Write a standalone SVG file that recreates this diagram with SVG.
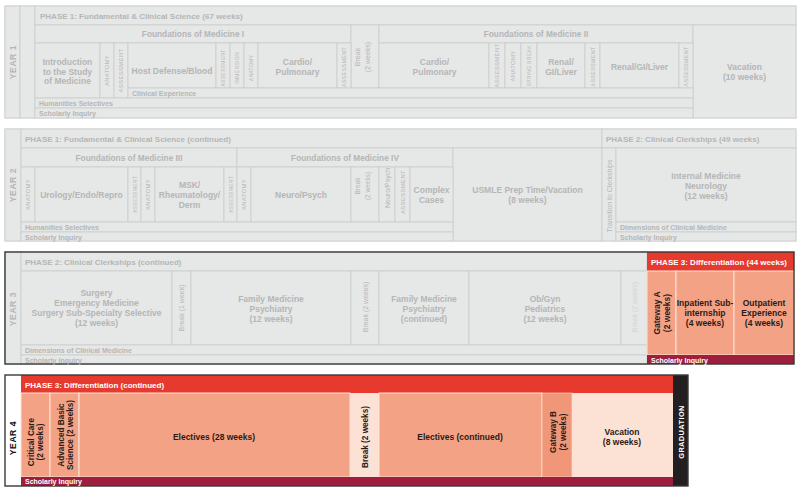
<svg xmlns="http://www.w3.org/2000/svg" width="800" height="490" viewBox="0 0 800 490">
<style>
.bg{fill:#fff}
.g{fill:#E6E7E7;stroke:#CBCCCC;stroke-width:0.8}
.dk{fill:none;stroke:#3A3A3A;stroke-width:1.4}
.red{fill:#E63A2F}
.sal{fill:#F4A286;stroke:#FBE3D8;stroke-width:1}
.salB{fill:#F0977A;stroke:#FBE3D8;stroke-width:0.6}
.lt{fill:#FCE2D5}
.mar{fill:#9E1E3E}
.grad{fill:#231F20}
text{font-family:"Liberation Sans",Arial,sans-serif}
.tg{fill:#B5B6B6;font-weight:bold;font-size:8.5px;text-anchor:middle}
.th{fill:#B5B6B6;font-weight:bold;font-size:8px}
.tf{fill:#B5B6B6;font-weight:bold;font-size:8.3px;text-anchor:middle}
.ty{fill:#B5B6B6;font-weight:bold;font-size:8.5px;text-anchor:middle;letter-spacing:0.6px}
.ts{fill:#B5B6B6;font-size:6px;text-anchor:middle;letter-spacing:0.3px}
.ts5{font-size:5px}
.tr{fill:#B5B6B6;font-weight:bold;font-size:7px}
.tb{fill:#B5B6B6;font-size:7px;text-anchor:middle}
.tbf{fill:#D2D3D3;font-size:7px;text-anchor:middle}
.tw{fill:#fff;font-weight:bold;font-size:8px}
.twr{fill:#fff;font-weight:bold;font-size:7px}
.td{fill:#2B1B17;font-weight:bold;font-size:8.5px;text-anchor:middle}
.tdv{fill:#2B1B17;font-weight:bold;font-size:8.2px;text-anchor:middle}
.ty4{fill:#111;font-weight:bold;font-size:8.5px;text-anchor:middle;letter-spacing:0.6px}
.tgr{fill:#fff;font-weight:bold;font-size:7.4px;text-anchor:middle;letter-spacing:0.4px}
</style>
<rect class="bg" x="0" y="0" width="800" height="490"/>

<!-- YEAR 1 -->
<g id="year1">
  <rect class="g" x="5" y="6" width="791" height="112"/>
  <rect class="g" x="5" y="6" width="15" height="112"/>
  <rect class="g" x="20" y="6" width="15" height="112"/>
  <rect class="g" x="35" y="6" width="761" height="19"/>
  <rect class="g" x="35" y="25" width="316" height="18"/>
  <rect class="g" x="351" y="25" width="28" height="63"/>
  <rect class="g" x="379" y="25" width="314" height="18"/>
  <rect class="g" x="693" y="25" width="103" height="93"/>
  <rect class="g" x="35" y="43" width="65" height="55"/>
  <rect class="g" x="100" y="43" width="14" height="55"/>
  <rect class="g" x="114" y="43" width="14" height="55"/>
  <rect class="g" x="128" y="43" width="88" height="45"/>
  <rect class="g" x="216" y="43" width="14" height="45"/>
  <rect class="g" x="230" y="43" width="14" height="45"/>
  <rect class="g" x="244" y="43" width="14" height="45"/>
  <rect class="g" x="258" y="43" width="79" height="45"/>
  <rect class="g" x="337" y="43" width="14" height="45"/>
  <rect class="g" x="379" y="43" width="110" height="45"/>
  <rect class="g" x="489" y="43" width="16" height="45"/>
  <rect class="g" x="505" y="43" width="16" height="45"/>
  <rect class="g" x="521" y="43" width="16" height="45"/>
  <rect class="g" x="537" y="43" width="48" height="45"/>
  <rect class="g" x="585" y="43" width="15" height="45"/>
  <rect class="g" x="600" y="43" width="79" height="45"/>
  <rect class="g" x="679" y="43" width="14" height="45"/>
  <rect class="g" x="128" y="88" width="565" height="10"/>
  <rect class="g" x="35" y="98" width="658" height="10"/>
  <rect class="g" x="35" y="108" width="658" height="10"/>

  <text class="ty" transform="translate(13,62) rotate(-90)" y="3">YEAR 1</text>
  <text class="th" x="40" y="18.5">PHASE 1: Fundamental &amp; Clinical Science (67 weeks)</text>
  <text class="tf" x="193" y="37">Foundations of Medicine I</text>
  <text class="tf" x="536" y="37">Foundations of Medicine II</text>
  <text class="tb" transform="translate(365,57) rotate(-90)"><tspan x="0" y="-5.5">Break</tspan><tspan x="0" y="5">(2 weeks)</tspan></text>
  <text class="tg"><tspan x="744.5" y="70">Vacation</tspan><tspan x="744.5" y="80">(10 weeks)</tspan></text>
  <text class="tg"><tspan x="67.5" y="65">Introduction</tspan><tspan x="67.5" y="74.5">to the Study</tspan><tspan x="67.5" y="84">of Medicine</tspan></text>
  <text class="ts" transform="translate(107,70.5) rotate(-90)" y="2">ANATOMY</text>
  <text class="ts" transform="translate(121,70.5) rotate(-90)" y="2">ASSESSMENT</text>
  <text class="tg" x="172" y="74">Host Defense/Blood</text>
  <text class="ts ts5" transform="translate(223,68) rotate(-90)" y="2">ASSESSMENT</text>
  <text class="ts ts5" transform="translate(237,68) rotate(-90)" y="2">IMMERSION</text>
  <text class="ts ts5" transform="translate(251,68) rotate(-90)" y="2">ANATOMY</text>
  <text class="tg"><tspan x="297.5" y="65">Cardio/</tspan><tspan x="297.5" y="74.5">Pulmonary</tspan></text>
  <text class="ts" transform="translate(344,67) rotate(-90)" y="2" style="font-size:5.4px">ASSESSMENT</text>
  <text class="tg"><tspan x="434.5" y="65">Cardio/</tspan><tspan x="434.5" y="74.5">Pulmonary</tspan></text>
  <text class="ts" transform="translate(497,65.5) rotate(-90)" y="2">ASSESSMENT</text>
  <text class="ts" transform="translate(513,66) rotate(-90)" y="2">ANATOMY</text>
  <text class="ts ts5" transform="translate(529,66) rotate(-90)" y="2">SPRING BREAK</text>
  <text class="tg"><tspan x="561" y="65">Renal/</tspan><tspan x="561" y="74.5">GI/Liver</tspan></text>
  <text class="ts" transform="translate(592.5,66.5) rotate(-90)" y="2" style="font-size:5.4px">ASSESSMENT</text>
  <text class="tg" x="639.5" y="69.5">Renal/GI/Liver</text>
  <text class="ts" transform="translate(686,66.5) rotate(-90)" y="2" style="font-size:5.4px">ASSESSMENT</text>
  <text class="tr" x="132" y="95.5">Clinical Experience</text>
  <text class="tr" x="39" y="105.5">Humanities Selectives</text>
  <text class="tr" x="39" y="115.5">Scholarly Inquiry</text>
</g>

<!-- YEAR 2 -->
<g id="year2">
  <rect class="g" x="5" y="129" width="791" height="112"/>
  <rect class="g" x="5" y="129" width="16" height="112"/>
  <rect class="g" x="21" y="129" width="581" height="19"/>
  <rect class="g" x="602" y="129" width="194" height="19"/>
  <rect class="g" x="21" y="148" width="216" height="19"/>
  <rect class="g" x="237" y="148" width="216" height="19"/>
  <rect class="g" x="453" y="148" width="149" height="93"/>
  <rect class="g" x="21" y="167" width="14" height="55"/>
  <rect class="g" x="35" y="167" width="93" height="55"/>
  <rect class="g" x="128" y="167" width="13" height="55"/>
  <rect class="g" x="141" y="167" width="14" height="55"/>
  <rect class="g" x="155" y="167" width="69" height="55"/>
  <rect class="g" x="224" y="167" width="13" height="55"/>
  <rect class="g" x="237" y="167" width="14" height="55"/>
  <rect class="g" x="251" y="167" width="100" height="55"/>
  <rect class="g" x="351" y="167" width="28" height="55"/>
  <rect class="g" x="379" y="167" width="16" height="55"/>
  <rect class="g" x="395" y="167" width="15" height="55"/>
  <rect class="g" x="410" y="167" width="43" height="55"/>
  <rect class="g" x="21" y="222" width="432" height="10"/>
  <rect class="g" x="21" y="232" width="432" height="9"/>
  <rect class="g" x="602" y="148" width="14" height="93"/>
  <rect class="g" x="616" y="148" width="180" height="74"/>
  <rect class="g" x="616" y="222" width="180" height="10"/>
  <rect class="g" x="616" y="232" width="180" height="9"/>

  <text class="ty" transform="translate(13,185) rotate(-90)" y="3">YEAR 2</text>
  <text class="th" x="25" y="141.5">PHASE 1: Fundamental &amp; Clinical Science (continued)</text>
  <text class="th" x="606" y="141.5">PHASE 2: Clinical Clerkships (49 weeks)</text>
  <text class="tf" x="129" y="160.5">Foundations of Medicine III</text>
  <text class="tf" x="345" y="160.5">Foundations of Medicine IV</text>
  <text class="ts" transform="translate(28,194.5) rotate(-90)" y="2">ANATOMY</text>
  <text class="tg" x="81.5" y="198">Urology/Endo/Repro</text>
  <text class="ts ts5" transform="translate(134.5,194.5) rotate(-90)" y="2">ASSESSMENT</text>
  <text class="ts" transform="translate(148,194.5) rotate(-90)" y="2">ANATOMY</text>
  <text class="tg"><tspan x="189.5" y="188">MSK/</tspan><tspan x="189.5" y="198">Rheumatology/</tspan><tspan x="189.5" y="208">Derm</tspan></text>
  <text class="ts ts5" transform="translate(230.5,194.5) rotate(-90)" y="2">ASSESSMENT</text>
  <text class="ts" transform="translate(244,194.5) rotate(-90)" y="2">ANATOMY</text>
  <text class="tg" x="301" y="198">Neuro/Psych</text>
  <text class="tb" transform="translate(365,186) rotate(-90)" style="font-size:6.5px"><tspan x="0" y="-5">Break</tspan><tspan x="0" y="5">(2 weeks)</tspan></text>
  <text class="tb" transform="translate(387,188) rotate(-90)" y="2.5">Neuro/Psych</text>
  <text class="ts" transform="translate(402.5,192) rotate(-90)" y="2">ASSESSMENT</text>
  <text class="tg"><tspan x="431.5" y="193">Complex</tspan><tspan x="431.5" y="203">Cases</tspan></text>
  <text class="tg"><tspan x="527.5" y="193">USMLE Prep Time/Vacation</tspan><tspan x="527.5" y="203">(8 weeks)</tspan></text>
  <text class="tb" transform="translate(609,196) rotate(-90)" y="2.5">Transition to Clerkships</text>
  <text class="tg"><tspan x="706" y="179">Internal Medicine</tspan><tspan x="706" y="189">Neurology</tspan><tspan x="706" y="199">(12 weeks)</tspan></text>
  <text class="tr" x="25" y="229.5">Humanities Selectives</text>
  <text class="tr" x="25" y="239.5">Scholarly Inquiry</text>
  <text class="tr" x="620" y="229.5">Dimensions of Clinical Medicine</text>
  <text class="tr" x="620" y="239.5">Scholarly Inquiry</text>
</g>

<!-- YEAR 3 -->
<g id="year3">
  <rect class="g" x="5" y="252" width="789" height="112"/>
  <rect class="g" x="5" y="252" width="16" height="112"/>
  <rect class="g" x="21" y="252" width="626" height="19"/>
  <rect class="g" x="21" y="271" width="151" height="74"/>
  <rect class="g" x="172" y="271" width="19" height="74"/>
  <rect class="g" x="191" y="271" width="160" height="74"/>
  <rect class="g" x="351" y="271" width="28" height="74"/>
  <rect class="g" x="379" y="271" width="90" height="74"/>
  <rect class="g" x="469" y="271" width="152" height="74"/>
  <rect class="g" x="621" y="271" width="26" height="74"/>
  <rect class="g" x="21" y="345" width="626" height="10"/>
  <rect class="g" x="21" y="355" width="626" height="9"/>
  <rect class="red" x="647" y="252" width="147" height="19"/>
  <rect class="sal" x="647" y="271" width="29" height="84"/>
  <rect class="sal" x="676" y="271" width="58" height="84"/>
  <rect class="sal" x="734" y="271" width="60" height="84"/>
  <rect class="mar" x="647" y="355" width="147" height="9"/>
  <rect class="dk" x="5" y="252" width="789" height="112"/>

  <text class="ty" transform="translate(13,309) rotate(-90)" y="3">YEAR 3</text>
  <text class="th" x="25" y="265">PHASE 2: Clinical Clerkships (continued)</text>
  <text class="tg"><tspan x="96.5" y="296">Surgery</tspan><tspan x="96.5" y="306">Emergency Medicine</tspan><tspan x="96.5" y="316">Surgery Sub-Specialty Selective</tspan><tspan x="96.5" y="325.5">(12 weeks)</tspan></text>
  <text class="tb" transform="translate(181.5,308) rotate(-90)" y="2.5">Break (1 week)</text>
  <text class="tg"><tspan x="271" y="302">Family Medicine</tspan><tspan x="271" y="312">Psychiatry</tspan><tspan x="271" y="322">(12 weeks)</tspan></text>
  <text class="tb" transform="translate(365,307) rotate(-90)" y="2.5">Break (2 weeks)</text>
  <text class="tg"><tspan x="424" y="302">Family Medicine</tspan><tspan x="424" y="312">Psychiatry</tspan><tspan x="424" y="322">(continued)</tspan></text>
  <text class="tg"><tspan x="545" y="302">Ob/Gyn</tspan><tspan x="545" y="312">Pediatrics</tspan><tspan x="545" y="322">(12 weeks)</tspan></text>
  <text class="tbf" transform="translate(634,307) rotate(-90)" y="2.5">Break (2 weeks)</text>
  <text class="tr" x="25" y="352.5">Dimensions of Clinical Medicine</text>
  <text class="tr" x="25" y="362.5">Scholarly Inquiry</text>
  <text class="tw" x="651" y="265">PHASE 3: Differentiation (44 weeks)</text>
  <text class="tdv" transform="translate(661.5,313) rotate(-90)" style="font-size:8.5px"><tspan x="0" y="-1.5">Gateway A</tspan><tspan x="0" y="8.5">(2 weeks)</tspan></text>
  <text class="td"><tspan x="705" y="306">Inpatient Sub-</tspan><tspan x="705" y="316">internship</tspan><tspan x="705" y="326">(4 weeks)</tspan></text>
  <text class="td"><tspan x="764" y="306">Outpatient</tspan><tspan x="764" y="316">Experience</tspan><tspan x="764" y="326">(4 weeks)</tspan></text>
  <text class="twr" x="651" y="362.5">Scholarly Inquiry</text>
</g>

<!-- YEAR 4 -->
<g id="year4">
  <rect class="bg" x="5" y="375" width="16" height="111"/>
  <rect class="red" x="21" y="375" width="652" height="18"/>
  <rect class="sal" x="21" y="393" width="29" height="84"/>
  <rect class="sal" x="50" y="393" width="29" height="84"/>
  <rect class="sal" x="79" y="393" width="271" height="84"/>
  <rect class="lt" x="350" y="393" width="29" height="84"/>
  <rect class="sal" x="379" y="393" width="163" height="84"/>
  <rect class="salB" x="542" y="393" width="30" height="84"/>
  <rect class="lt" x="572" y="393" width="101" height="84"/>
  <rect class="mar" x="21" y="477" width="652" height="9"/>
  <rect class="grad" x="673" y="375" width="15" height="111"/>
  <rect class="dk" x="5" y="375" width="683" height="111"/>

  <text class="ty4" transform="translate(13,438) rotate(-90)" y="3">YEAR 4</text>
  <text class="tw" x="25" y="387.5">PHASE 3: Differentiation (continued)</text>
  <text class="tdv" transform="translate(36,442) rotate(-90)"><tspan x="0" y="-2">Critical Care</tspan><tspan x="0" y="7">(2 weeks)</tspan></text>
  <text class="tdv" transform="translate(65,435) rotate(-90)"><tspan x="0" y="-1.5">Advanced Basic</tspan><tspan x="0" y="7.5">Science (2 weeks)</tspan></text>
  <text class="td" x="214" y="440">Electives (28 weeks)</text>
  <text class="tdv" transform="translate(365,437) rotate(-90)" y="3">Break (2 weeks)</text>
  <text class="td" x="460" y="440">Electives (continued)</text>
  <text class="tdv" transform="translate(557,432) rotate(-90)"><tspan x="0" y="-1">Gateway B</tspan><tspan x="0" y="8.5">(2 weeks)</tspan></text>
  <text class="td"><tspan x="622" y="435">Vacation</tspan><tspan x="622" y="444.5">(8 weeks)</tspan></text>
  <text class="tgr" transform="translate(680.5,432) rotate(-90)" y="3">GRADUATION</text>
  <text class="twr" x="25" y="484">Scholarly Inquiry</text>
</g>
</svg>
